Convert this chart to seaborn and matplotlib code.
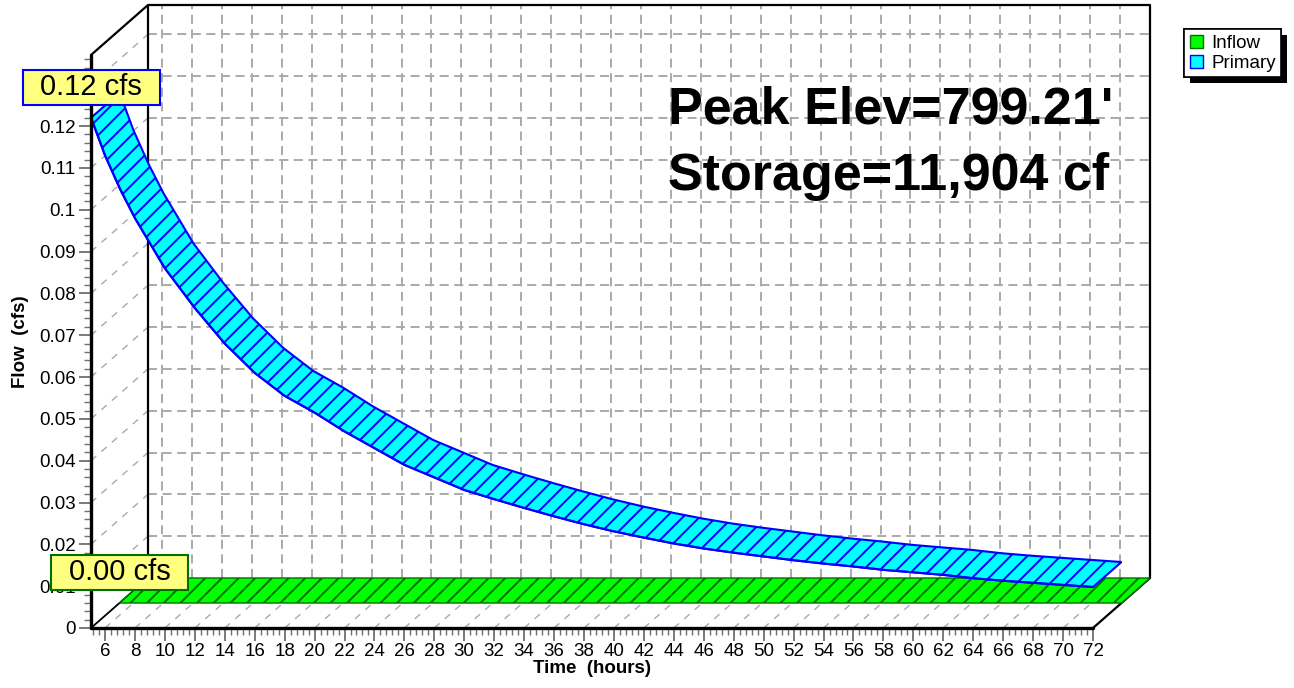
import numpy as np
import matplotlib
matplotlib.use("Agg")
import matplotlib.pyplot as plt
import matplotlib.patheffects as pe
from matplotlib.patches import Patch
from matplotlib.path import Path
from matplotlib.ticker import FixedLocator, MultipleLocator, FuncFormatter
import seaborn as sns

time_hr = [5.07, 6, 7, 8, 9, 10, 12, 14, 16, 18, 20, 22, 24, 26, 28, 30, 32, 34,
           36, 38, 40, 42, 44, 46, 48, 50, 52, 54, 56, 58, 60, 62, 64, 66, 68, 70, 72]
primary_cfs = [0.122, 0.113, 0.105, 0.098, 0.092, 0.086, 0.0765, 0.068, 0.061, 0.0555,
               0.0515, 0.047, 0.043, 0.039, 0.036, 0.033, 0.0308, 0.0287, 0.0267, 0.0248,
               0.0231, 0.0216, 0.0202, 0.019, 0.018, 0.0171, 0.0162, 0.0154, 0.0147,
               0.0139, 0.0133, 0.0127, 0.0119, 0.0113, 0.0108, 0.0103, 0.0098]
inflow_cfs = [0.0] * len(time_hr)

series_names = ["Inflow", "Primary"]
y_ticks = [0, 0.01, 0.02, 0.03, 0.04, 0.05, 0.06, 0.07, 0.08, 0.09, 0.1, 0.11, 0.12]
x_ticks = list(range(6, 73, 2))
summary = ["Peak Elev=799.21'", "Storage=11,904 cf"]

sns.set_style("white")
plt.rcParams['font.family'] = ['Liberation Sans', 'DejaVu Sans']
plt.rcParams['text.color'] = 'black'
plt.rcParams['axes.labelcolor'] = 'black'
plt.rcParams['hatch.linewidth'] = 1.4
plt.rcParams['lines.scale_dashes'] = False


def wide_box(x0, y0, width, height, mutation_size):
    # flat label box: wide side padding, thin top/bottom padding
    px, py = 0.6 * mutation_size, 0.12 * mutation_size
    xa, xb = x0 - px, x0 + width + px
    ya, yb = y0 - py, y0 + height + py
    return Path([(xa, ya), (xb, ya), (xb, yb), (xa, yb), (xa, ya)], closed=True)


W, H = 1294, 688
fig = plt.figure(figsize=(W / 100, H / 100), dpi=100)
ax = fig.add_axes([91 / W, 60 / H, 1002 / W, 573 / H])
x0, x1, ytop = 5.065, 72.0, 0.137
ax.set_xlim(x0, x1)
ax.set_ylim(0, ytop)
for s in ax.spines.values():
    s.set_visible(False)
ax.patch.set_visible(False)

# depth offset of the 3D box, converted to data units
o = ax.transData.transform((x0, 0))
p = ax.transData.transform((x1, ytop))
sx = (p[0] - o[0]) / (x1 - x0)
sy = (p[1] - o[1]) / ytop
DX, DY = 57 / sx, 50 / sy

grid_kw = dict(color='#aaaaaa', lw=1.4, ls=(0, (6.5, 4)), zorder=1, clip_on=False)
diag_kw = dict(color='#aaaaaa', lw=1.0, ls=(0, (5, 5)), zorder=1, clip_on=False)
y_grid = np.arange(1, 14) / 100

# back wall grid
for v in y_grid:
    ax.plot([x0 + DX, x1 + DX], [v + DY, v + DY], **grid_kw)
for t in x_ticks:
    ax.plot([t + DX, t + DX], [DY, ytop + DY], **grid_kw)
# left wall / floor diagonals
for v in y_grid:
    ax.plot([x0, x0 + DX], [v, v + DY], **diag_kw)
for t in x_ticks[:-1]:
    ax.plot([t, t + DX], [0, DY], **diag_kw)

# frame
ax.plot([x0 + DX, x0 + DX, x1 + DX, x1 + DX], [DY, ytop + DY, ytop + DY, DY],
        color='black', lw=1.6, zorder=2, clip_on=False)
ax.plot([x0, x0 + DX], [ytop, ytop + DY], color='black', lw=1.6, zorder=2, clip_on=False)
ax.plot([x0, x0 + DX], [0, DY], color='black', lw=1.3, zorder=2, clip_on=False)
ax.plot([x1, x1 + DX], [0, DY], color='black', lw=1.6, zorder=2, clip_on=False)

# Inflow ribbon (back half of depth)
t = np.array(time_hr)
q_in = np.array(inflow_cfs)
gx = np.concatenate([t + DX / 2, (t + DX)[::-1]])
gy = np.concatenate([q_in + DY / 2, (q_in + DY)[::-1]])
ax.fill(gx, gy, facecolor='#00ff00', edgecolor='#006f00', hatch='//', lw=1.0,
        zorder=4, clip_on=False)

# Primary ribbon (front half of depth)
q = np.array(primary_cfs)
bx = np.concatenate([t, (t + DX / 2)[::-1]])
by = np.concatenate([q, (q + DY / 2)[::-1]])
ax.fill(bx, by, facecolor='#00ffff', edgecolor='#0000ff', hatch='//', lw=1.5,
        zorder=5, clip_on=False)
sns.lineplot(x=time_hr, y=primary_cfs, color='#0000ff', lw=1.5, zorder=6, ax=ax,
             legend=False)

# front axes lines
ax.plot([x0, x0], [0, ytop], color='black', lw=2.4, zorder=7, clip_on=False)
ax.plot([x0, x1], [0, 0], color='black', lw=2.4, zorder=7, clip_on=False)

ax.set_xlim(x0, x1)
ax.set_ylim(0, ytop)
ax.xaxis.set_major_locator(FixedLocator(x_ticks))
ax.xaxis.set_minor_locator(MultipleLocator(0.4))
ax.yaxis.set_major_locator(FixedLocator(y_ticks))
ax.yaxis.set_minor_locator(MultipleLocator(0.002))
ax.yaxis.set_major_formatter(FuncFormatter(lambda v, _: f"{v:g}"))
ax.tick_params(left=True, bottom=True, which='both', direction='out',
               color='#707070', labelcolor='black')
ax.tick_params(which='major', length=9, width=1.3, labelsize=13.5, pad=2)
ax.tick_params(which='minor', length=5, width=1.0)
ax.set_xlabel("Time  (hours)", fontsize=13.5, fontweight='bold', labelpad=0)
ax.set_ylabel("Flow  (cfs)", fontsize=13.5, fontweight='bold', labelpad=7)

# peak labels
ax.annotate(f"{max(primary_cfs):.2f} cfs", xy=(time_hr[0], primary_cfs[0]),
            xytext=(0, 22), textcoords='offset points', ha='center', va='center',
            fontsize=21, zorder=10, annotation_clip=False,
            bbox=dict(boxstyle=wide_box, fc='#ffff80', ec='#0000ff', lw=1.5))
ax.annotate(f"{max(inflow_cfs):.2f} cfs", xy=(time_hr[0] + DX / 2, inflow_cfs[0] + DY / 2),
            xytext=(0, 22), textcoords='offset points', ha='center', va='center',
            fontsize=21, zorder=10, annotation_clip=False,
            bbox=dict(boxstyle=wide_box, fc='#ffff80', ec='#007000', lw=1.5))

fig.text(668 / W, 1 - 123 / H, summary[0], fontsize=37.5, fontweight='bold', va='baseline')
fig.text(668 / W, 1 - 190 / H, summary[1], fontsize=37.5, fontweight='bold', va='baseline')

handles = [Patch(fc='#00ff00', ec='#007000', label=series_names[0]),
           Patch(fc='#00ffff', ec='#0000ff', label=series_names[1])]
leg = fig.legend(handles=handles, loc='upper left', bbox_to_anchor=(1184 / W, 1 - 29 / H),
                 frameon=True, fancybox=False, fontsize=13.5, handlelength=0.7,
                 handleheight=0.7, handletextpad=0.45, borderpad=0.3,
                 labelspacing=0.15, borderaxespad=0)
frame = leg.get_frame()
frame.set_edgecolor('black')
frame.set_linewidth(1.2)
frame.set_alpha(1)
frame.set_path_effects([pe.withSimplePatchShadow(offset=(4, -4), shadow_rgbFace='black', alpha=1),
                        pe.Normal()])

fig.savefig('out.png', dpi=100)
